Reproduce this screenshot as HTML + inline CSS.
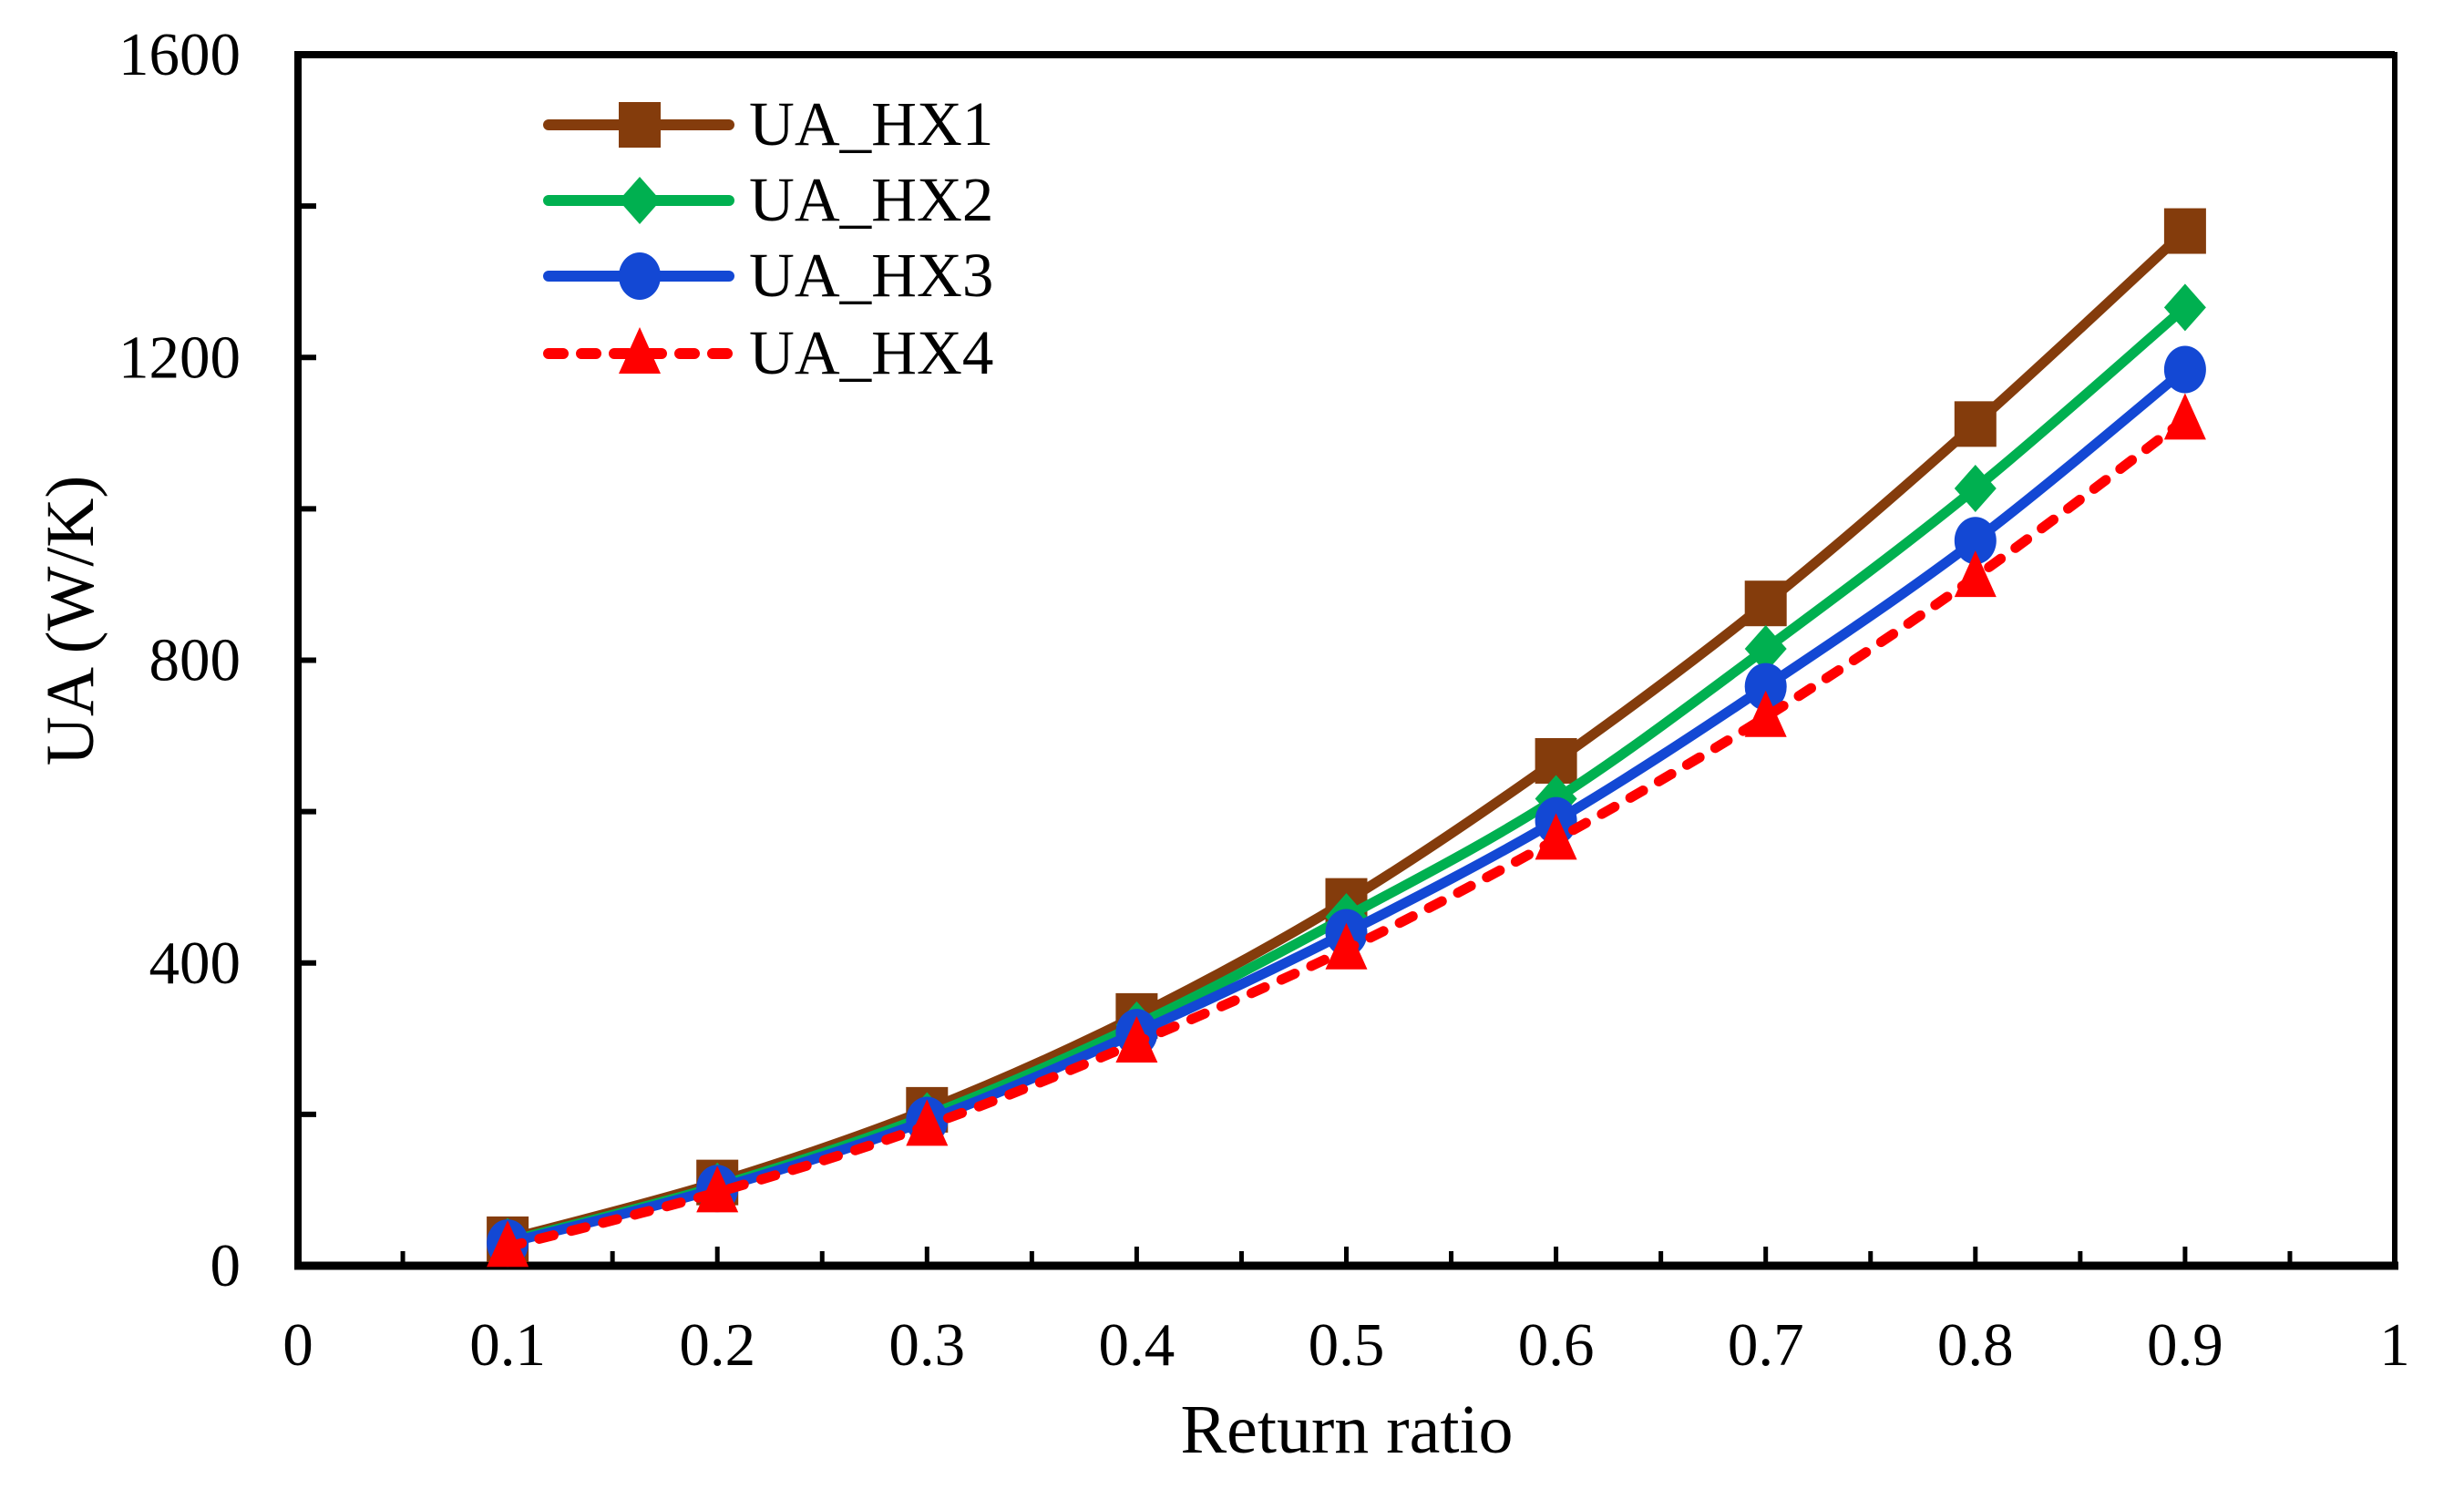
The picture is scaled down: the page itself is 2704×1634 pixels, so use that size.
<!DOCTYPE html>
<html><head><meta charset="utf-8"><style>
html,body{margin:0;padding:0;background:#fff;}
svg{display:block;font-family:"Liberation Serif","Times New Roman",serif;}
</style></head><body>
<svg id="chart" width="2704" height="1634" viewBox="0 0 2704 1634" xmlns="http://www.w3.org/2000/svg">
<rect width="2704" height="1634" fill="#fff"/>
<g id="plot"></g>
</svg>
<script>
const xValues = [0.1,0.2,0.3,0.4,0.5,0.6,0.7,0.8,0.9];
const hx1 = [35,110,206,330,482,667,875,1112,1367];
const hx2 = [32,105,198,318,461,617,815,1027,1266];
const hx3 = [30,102,192,308,440,588,765,958,1184];
const hx4 = [25,97,185,295,418,563,725,910,1118];
const xTickLabels = ["0","0.1","0.2","0.3","0.4","0.5","0.6","0.7","0.8","0.9","1"];
const yTickLabels = ["0","400","800","1200","1600"];
const seriesNames = ["UA_HX1","UA_HX2","UA_HX3","UA_HX4"];

const L=327,R=2628,T=60,B=1389;
const X=v=>L+(v-0)/(1-0)*(R-L);
const Y=v=>B-(v/1600)*(B-T);
const NS="http://www.w3.org/2000/svg";
const g=document.getElementById('plot');
function mk(tag,attrs,parent){const e=document.createElementNS(NS,tag);for(const k in attrs)e.setAttribute(k,attrs[k]);(parent||g).appendChild(e);return e;}

for(let i=0;i<=20;i++){
  const v=i*0.05;const x=X(v);const major=i%2===0;
  const t=mk('line',{x1:x,x2:x,y1:B,y2:B-(major?21:16),stroke:'#000','stroke-width':5});
  
  
}
for(let i=0;i<=8;i++){
  const y=Y(i*200);
  const t=mk('line',{x1:L,x2:L+20,y1:y,y2:y,stroke:'#000','stroke-width':6});
  
  
}
const fr=mk('rect',{x:L,y:T,width:R-L,height:B-T,fill:'none',stroke:'#000','stroke-width':6});


const xa=mk('line',{x1:L-4,x2:R+4,y1:B,y2:B,stroke:'#000','stroke-width':9});


const ya=mk('line',{x1:L,x2:L,y1:T-4,y2:B,stroke:'#000','stroke-width':8});


const ta=mk('line',{x1:L,x2:R,y1:T,y2:T,stroke:'#000','stroke-width':8});



xTickLabels.forEach((s,i)=>{
  const t=mk('text',{x:X(i/10),y:1498,'font-size':67,'text-anchor':'middle'});
  t.textContent=s;
  
  
});
yTickLabels.forEach((s,i)=>{
  const t=mk('text',{x:264,y:Y(i*400)+22,'font-size':67,'text-anchor':'end'});
  t.textContent=s;
  
  
});
const xt=mk('text',{x:1478,y:1594,'font-size':76,'text-anchor':'middle'});
xt.textContent='Return ratio';


const yt=mk('text',{x:0,y:0,'font-size':75,'text-anchor':'middle',transform:'translate(102,681) rotate(-90)'});
yt.textContent='UA (W/K)';



function smoothPath(pts){
  let d=`M${pts[0][0]},${pts[0][1]}`;
  for(let i=0;i<pts.length-1;i++){
    const p0=pts[i-1]||pts[i],p1=pts[i],p2=pts[i+1],p3=pts[i+2]||p2;
    const c1=[p1[0]+(p2[0]-p0[0])/6,p1[1]+(p2[1]-p0[1])/6];
    const c2=[p2[0]-(p3[0]-p1[0])/6,p2[1]-(p3[1]-p1[1])/6];
    d+=` C${c1[0]},${c1[1]} ${c2[0]},${c2[1]} ${p2[0]},${p2[1]}`;
  }
  return d;
}
function marker(type,x,y,color,parent){
  let e;
  if(type==='square') e=mk('rect',{x:x-23,y:y-25,width:46,height:50,fill:color},parent);
  else if(type==='diamond') e=mk('polygon',{points:`${x},${y-26} ${x+23},${y} ${x},${y+26} ${x-23},${y}`,fill:color},parent);
  else if(type==='circle') e=mk('ellipse',{cx:x,cy:y,rx:23,ry:26,fill:color},parent);
  else e=mk('polygon',{points:`${x},${y-29} ${x+23},${y+22} ${x-23},${y+22}`,fill:color},parent);
  return e;
}
const series=[
  {vals:hx1,color:'#843C0C',m:'square',dash:null},
  {vals:hx2,color:'#00B050',m:'diamond',dash:null},
  {vals:hx3,color:'#1348D4',m:'circle',dash:null},
  {vals:hx4,color:'#FF0000',m:'triangle',dash:'16 20'}
];
series.forEach((s,si)=>{
  const sg=mk('g',{});
  
  
  const pts=xValues.map((xv,i)=>[X(xv),Y(s.vals[i])]);
  const p=mk('path',{d:smoothPath(pts),fill:'none',stroke:s.color,'stroke-width':11,'stroke-linecap':'round'},sg);
  if(s.dash)p.setAttribute('stroke-dasharray',s.dash);
  
  
  pts.forEach(q=>{
    const m=marker(s.m,q[0],q[1],s.color,sg);
    
    
  });
  const ly=[137,220,303,388][si];
  const lg=mk('g',{});
  
  
  const ll=mk('line',{x1:602,x2:800,y1:ly,y2:ly,stroke:s.color,'stroke-width':12,'stroke-linecap':'round'},lg);
  if(s.dash)ll.setAttribute('stroke-dasharray','16 20');
  marker(s.m,702,ly,s.color,lg);
  const lt=mk('text',{x:822,y:ly+22,'font-size':69},lg);
  lt.textContent=seriesNames[si];
});
</script>
</body></html>
